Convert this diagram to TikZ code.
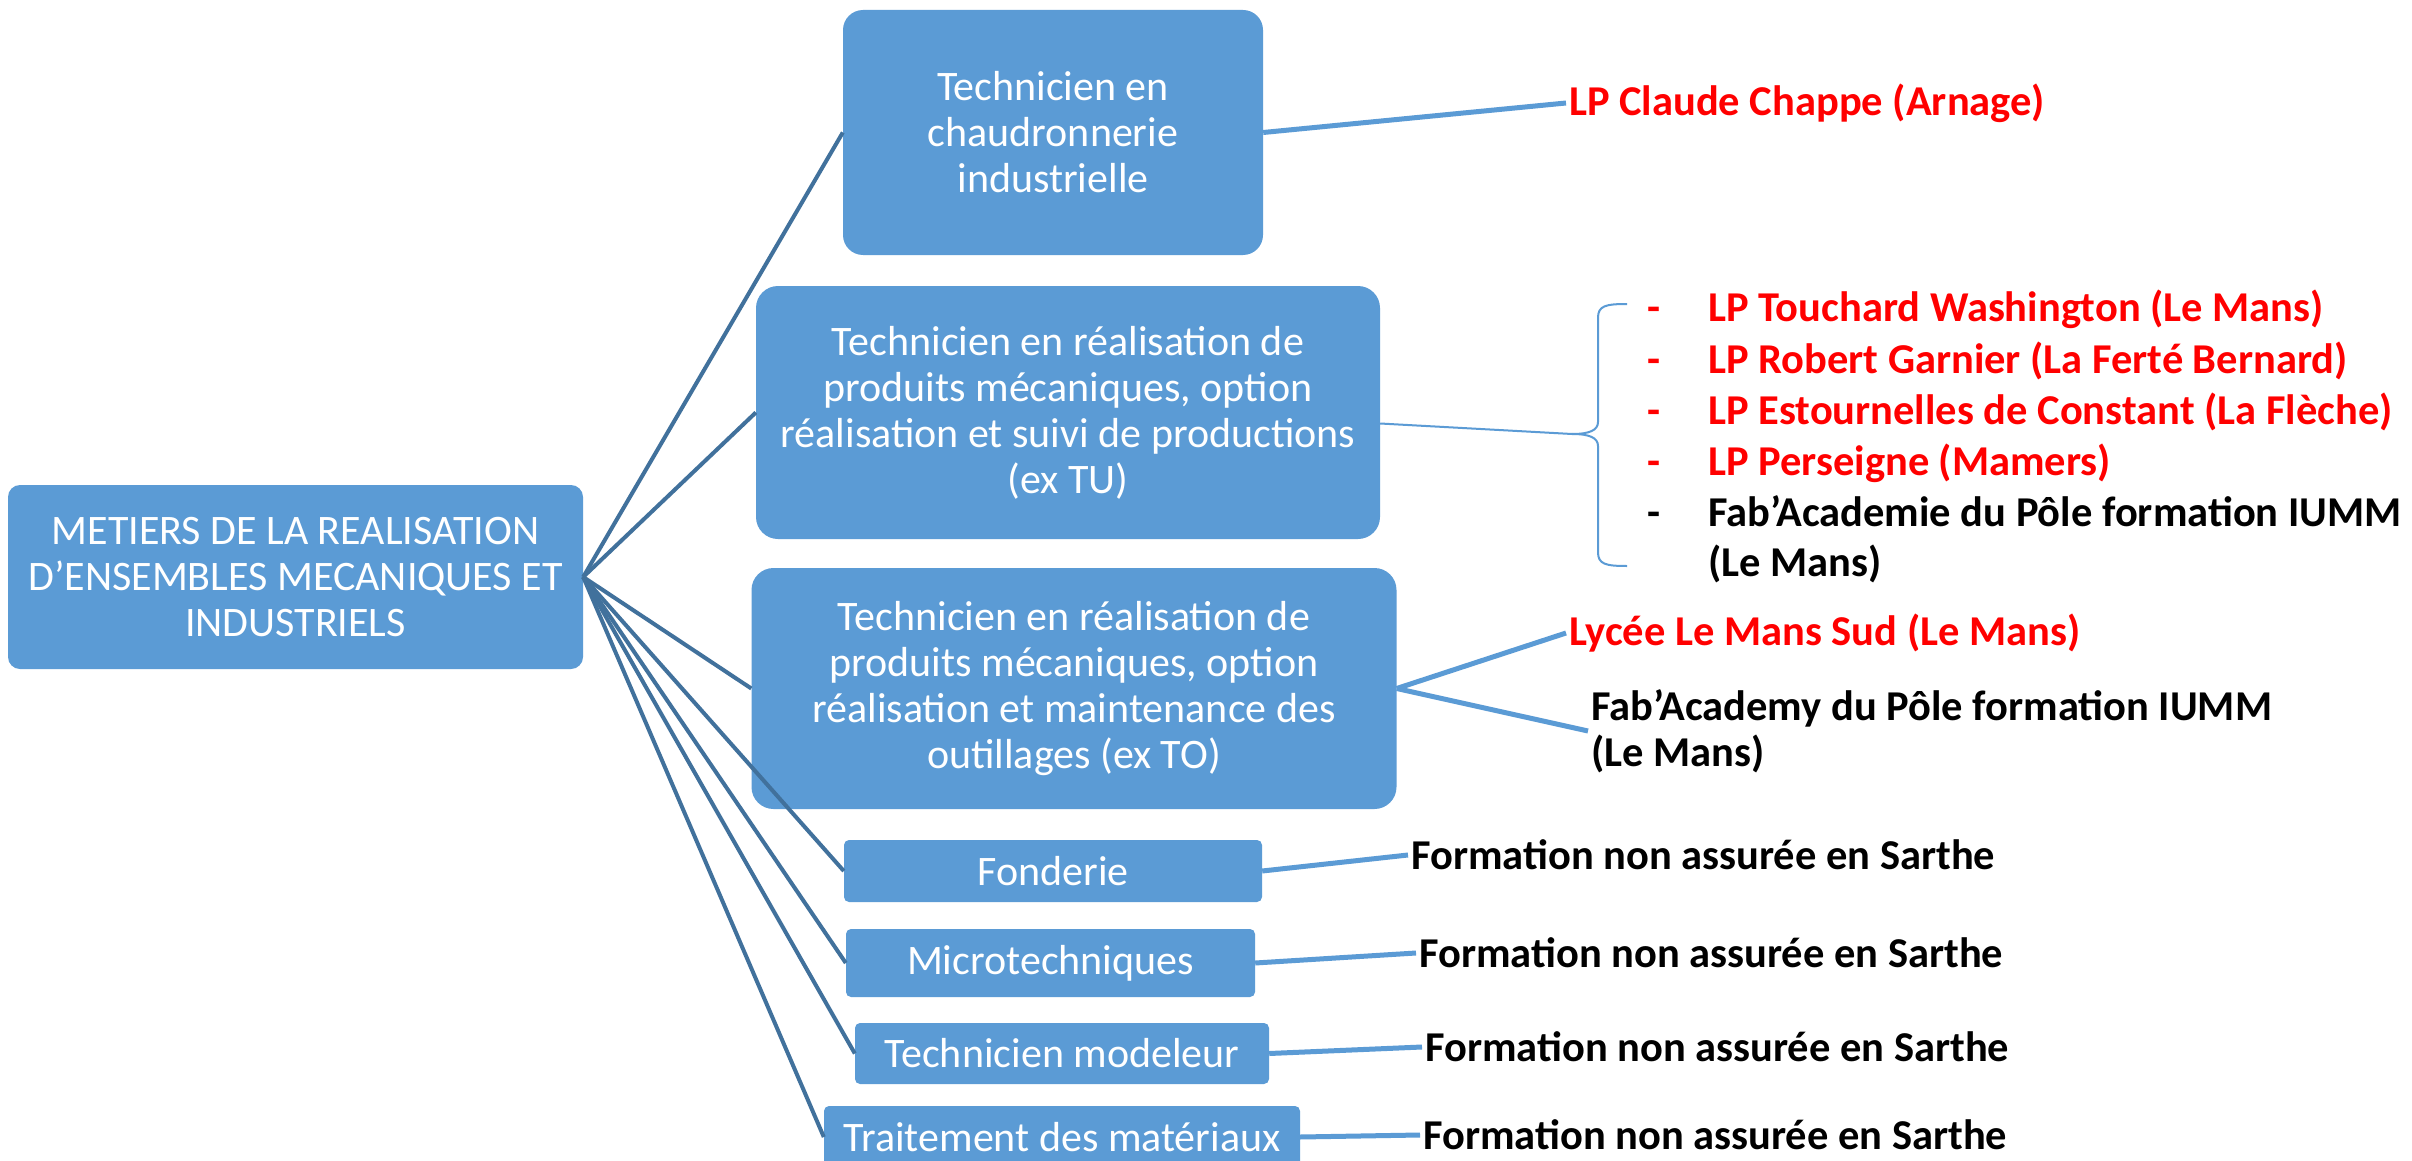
\documentclass[tikz,border=0pt]{standalone}
\usepackage{fontspec}
\setmainfont{Carlito}
\usetikzlibrary{calc}
\definecolor{boxblue}{HTML}{5B9BD5}
\definecolor{linkdark}{HTML}{41719C}
\definecolor{lred}{HTML}{FF0000}
\begin{document}
\begin{tikzpicture}[x=1pt,y=-1pt,
  box/.style={fill=boxblue, draw=none, rounded corners=#1, text=white, align=center,
    font=\fontsize{42}{46}\selectfont, inner sep=0pt},
  box/.default=20pt,
  rootlink/.style={draw=linkdark, line width=4pt},
  sublink/.style={draw=boxblue, line width=5pt},
  thinlink/.style={draw=boxblue, line width=2pt},
  lab/.style={font=\bfseries\fontsize{42.5}{46}\selectfont, anchor=west, inner sep=3pt, align=left},
  redlab/.style={lab, text=lred},
  blacklab/.style={lab, text=black}]
\clip (0,0) rectangle (2412,1161);
\fill[white] (0,0) rectangle (2412,1161);
% boxes
\node[box=12pt, minimum width=575pt, minimum height=184pt] (root) at (295.5,577)
  {METIERS DE LA REALISATION\\D’ENSEMBLES MECANIQUES ET\\INDUSTRIELS};
\node[box=20pt, minimum width=420pt, minimum height=245pt] (c1) at (1053,132.5)
  {Technicien en\\chaudronnerie\\industrielle};
\node[box=22pt, minimum width=624pt, minimum height=253pt] (c2) at (1068,412.5)
  {Technicien en réalisation de\\produits mécaniques, option\\réalisation et suivi de productions\\(ex TU)};
\node[box=22pt, minimum width=645pt, minimum height=241pt] (c3) at (1074,688.5)
  {Technicien en réalisation de\\produits mécaniques, option\\réalisation et maintenance des\\outillages (ex TO)};
\node[box=5pt, minimum width=418pt, minimum height=62pt] (c4) at (1053,871) {Fonderie};
\node[box=5pt, minimum width=409pt, minimum height=68pt] (c5) at (1050.5,963) {Microtechniques};
\node[box=5pt, minimum width=414pt, minimum height=61pt] (c6) at (1062,1053.5) {Technicien modeleur};
\node[box=5pt, minimum width=476pt, minimum height=62pt] (c7) at (1062,1137) {Traitement des matériaux};
% root connectors
\foreach \c in {c1,c2,c3,c4,c5,c6,c7} {\draw[rootlink] (root.east) -- (\c.west);}
% labels
\node[redlab] (l1) at (1566,103) {LP Claude Chappe (Arnage)};
\draw[sublink] (c1.east) -- (l1.west);
% list for c2
\coordinate (bt) at (1572,434);
\draw[thinlink] ($(c2.east)+(0,11)$) -- (bt);
\draw[thinlink] (1627,304) .. controls (1605,304) and (1598,306) .. (1598,318)
  -- (1598,422) .. controls (1598,430) and (1590,434) .. (bt)
  .. controls (1590,434) and (1598,438) .. (1598,446)
  -- (1598,552) .. controls (1598,564) and (1605,566) .. (1627,566);
\foreach \i/\y/\col in {1/321/lred,2/373/lred,3/424/lred,4/475/lred,5/526/black}
  {\node[lab, text=\col, anchor=base] (d\i) at (1654,\y) {-};}
\node[redlab, anchor=base west] (t1) at (1705,321) {LP Touchard Washington (Le Mans)};
\node[redlab, anchor=base west] (t2) at (1705,373) {LP Robert Garnier (La Ferté Bernard)};
\node[redlab, anchor=base west] (t3) at (1705,424) {LP Estournelles de Constant (La Flèche)};
\node[redlab, anchor=base west] (t4) at (1705,475) {LP Perseigne (Mamers)};
\node[blacklab, anchor=base west] (t5) at (1705,526) {Fab’Academie du Pôle formation IUMM};
\node[blacklab, anchor=base west] (t6) at (1705,576) {(Le Mans)};
% c3 labels
\node[redlab] (l3a) at (1566,633) {Lycée Le Mans Sud (Le Mans)};
\node[blacklab] (l3b) at (1588,731) {Fab’Academy du Pôle formation IUMM\\(Le Mans)};
\draw[sublink] (c3.east) -- (l3a.west);
\draw[sublink] (c3.east) -- (l3b.west);
% formation labels
\node[blacklab] (l4) at (1408,855) {Formation non assurée en Sarthe};
\node[blacklab] (l5) at (1416,953) {Formation non assurée en Sarthe};
\node[blacklab] (l6) at (1422,1047) {Formation non assurée en Sarthe};
\node[blacklab] (l7) at (1420,1135) {Formation non assurée en Sarthe};
\draw[sublink] (c4.east) -- (l4.west);
\draw[sublink] (c5.east) -- (l5.west);
\draw[sublink] (c6.east) -- (l6.west);
\draw[sublink] (c7.east) -- (l7.west);
\end{tikzpicture}
\end{document}
